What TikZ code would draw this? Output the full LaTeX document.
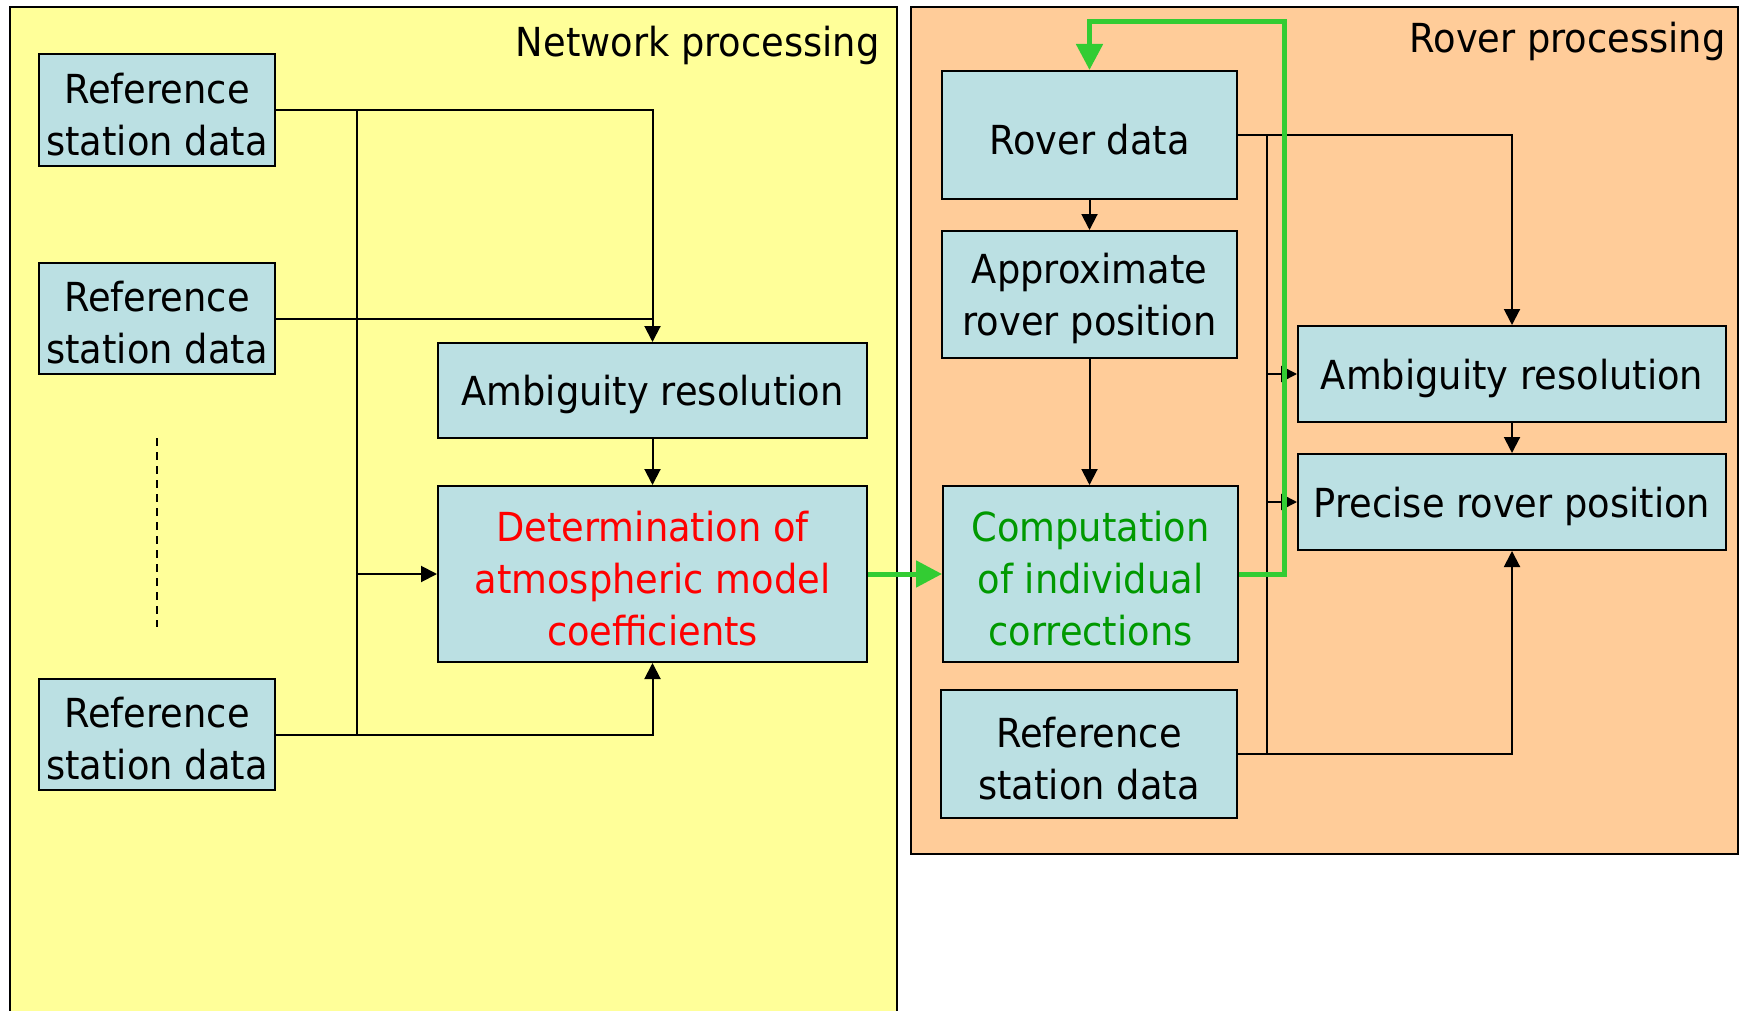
\documentclass[tikz,border=0pt]{standalone}
\usepackage{fontspec}
\setmainfont{DejaVu Sans}[FakeStretch=0.92]
\usetikzlibrary{arrows.meta}
\definecolor{netfill}{RGB}{255,255,153}
\definecolor{rovfill}{RGB}{255,204,153}
\definecolor{boxfill}{RGB}{187,224,227}
\definecolor{flowgreen}{RGB}{51,204,51}
\definecolor{textgreen}{RGB}{0,153,0}
\newcommand\dgfont{\fontsize{20pt}{26pt}\selectfont}
% strut that lowers a block's text slightly inside its box
\newcommand\tup{\rule{0pt}{19.5pt}}
\begin{document}
\begin{tikzpicture}[x=0.5pt,y=-0.5pt,
  box/.style={draw=black, line width=1pt, fill=boxfill, align=center,
    inner sep=0pt, font=\dgfont},
  conn/.style={line width=1pt},
  arr/.style={conn, -{Triangle[length=8pt,width=8pt]}},
  garr/.style={line width=2.5pt, flowgreen,
    -{Triangle[length=13pt,width=13pt]}},
  title/.style={font=\dgfont, inner sep=0pt, anchor=base east},
  panel/.style={line width=1pt}]
\useasboundingbox (0,0) rectangle (1740,1011);
\fill[white] (0,0) rectangle (1740,1011);

% panels
\fill[netfill] (10,7) rectangle (897,1011);
\draw[panel] (10,1011) -- (10,7) -- (897,7) -- (897,1011);
\filldraw[panel, fill=rovfill] (911,7) rectangle (1738,854);
\node[title] (nettitle) at (880,57) {Network processing};
\node[title] (rovtitle) at (1726,53) {Rover processing};

% network processing blocks
\node[box, minimum width=118pt, minimum height=56pt] (rsd1) at (157,110) {\tup Reference\\station data};
\node[box, minimum width=118pt, minimum height=55.5pt] (rsd2) at (157,318.5) {\tup Reference\\station data};
\node[box, minimum width=118pt, minimum height=55.5pt] (rsd3) at (157,734.5) {\tup Reference\\station data};
\node[box, minimum width=214.5pt, minimum height=47.5pt] (namb) at (652.5,390.5) {\tup Ambiguity resolution};
\node[box, minimum width=214.5pt, minimum height=88pt, text=red] (det) at (652.5,574) {\tup Determination of\\atmospheric model\\coefficients};
\coordinate (dotsT) at (157,438);
\coordinate (dotsB) at (157,627);
\draw[line width=0.7pt, dash pattern=on 4pt off 3pt] (dotsT) -- (dotsB);

% rover processing blocks
\node[box, minimum width=147.5pt, minimum height=64pt] (rover) at (1089.5,135) {\tup Rover data};
\node[box, minimum width=147.5pt, minimum height=63.5pt] (approx) at (1089.5,294.5) {\tup Approximate\\rover position};
\node[box, minimum width=147.5pt, minimum height=88pt, text=textgreen] (comp) at (1090.5,574) {\tup Computation\\of individual\\corrections};
\node[box, minimum width=148pt, minimum height=64pt] (rrsd) at (1089,754) {\tup Reference\\station data};
\node[box, minimum width=214pt, minimum height=48pt] (ramb) at (1512,374) {\tup Ambiguity resolution};
\node[box, minimum width=214pt, minimum height=48pt] (prec) at (1512,502) {\tup Precise rover position};

% network connectors
\coordinate (nbusT) at (357,110);
\coordinate (nbusB) at (357,734.5);
\draw[conn] (nbusT) -- (nbusB);
\draw[arr] (rsd1.east) -| (namb.north);
\draw[conn] (rsd2.east) -- (rsd2.east -| namb.north);
\draw[arr] (rsd3.east) -| (det.south);
\draw[arr] (namb) -- (det);
\draw[arr] (nbusT |- det.west) -- (det.west);

% rover connectors
\coordinate (rbusT) at (1267,135);
\coordinate (rbusB) at (1267,754);
\draw[conn] (rbusT) -- (rbusB);
\draw[arr] (rover.east) -| (ramb.north);
\draw[arr] (rover) -- (approx);
\draw[arr] (approx.south) -- (approx.south |- comp.north);
\draw[arr] (ramb) -- (prec);
\draw[arr] (rrsd.east) -| (prec.south);
\draw[arr] (rbusT |- ramb.west) -- (ramb.west);
\draw[arr] (rbusT |- prec.west) -- (prec.west);

% corrections flow
\coordinate (gloop) at (1284,22);
\draw[garr] (det.east) -- (comp.west);
\draw[garr] (comp.east) -| (gloop) -| (rover.north);
\end{tikzpicture}
\end{document}
